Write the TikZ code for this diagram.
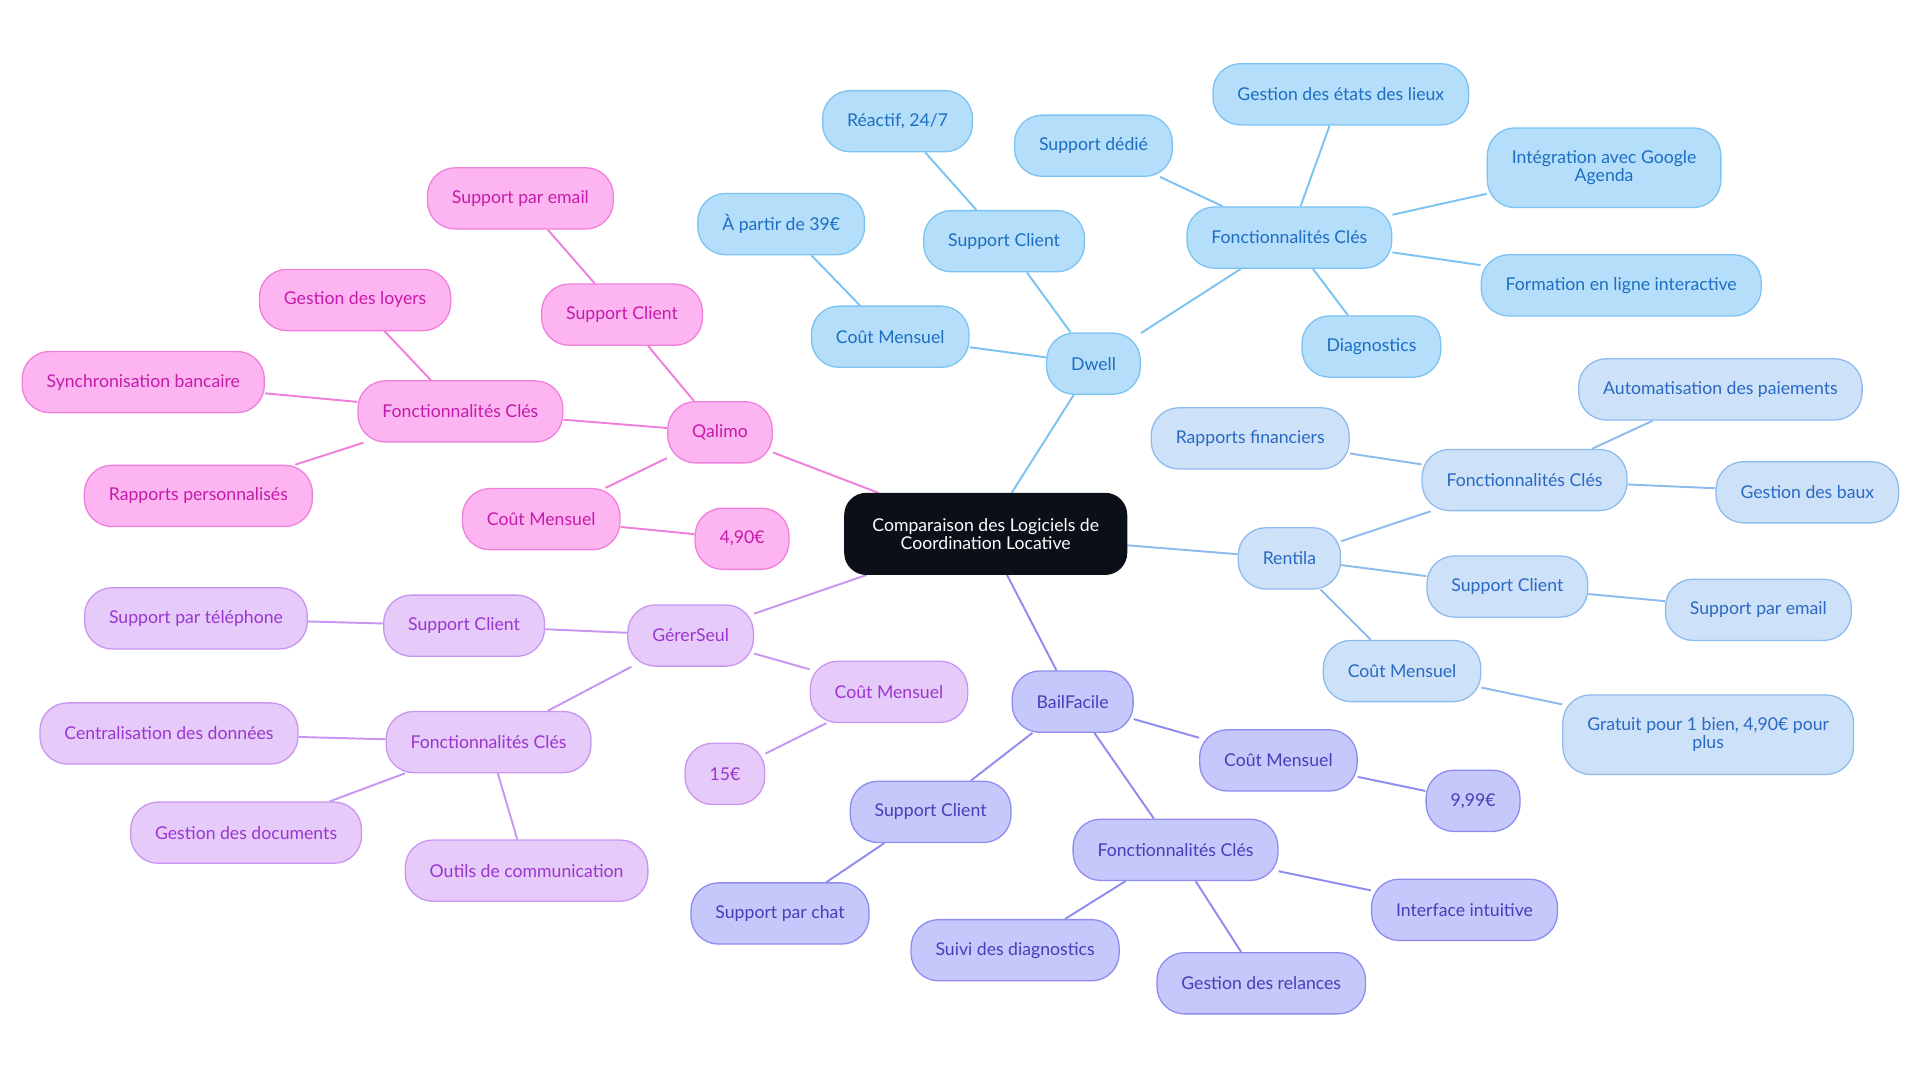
\documentclass[tikz,border=0pt]{standalone}
\usepackage{fontspec}
\setmainfont{Lato}
\usetikzlibrary{positioning,backgrounds}
\definecolor{dwfill}{HTML}{B5DEFB}\definecolor{dwline}{HTML}{7CC3F2}\definecolor{dwtext}{HTML}{1D6EC0}
\definecolor{refill}{HTML}{CDE2F9}\definecolor{reline}{HTML}{8DBBEE}\definecolor{retext}{HTML}{2A68C2}
\definecolor{bffill}{HTML}{C6C7FB}\definecolor{bfline}{HTML}{8E8CF0}\definecolor{bftext}{HTML}{4A3DB8}
\definecolor{gsfill}{HTML}{E6CAF9}\definecolor{gsline}{HTML}{C895F0}\definecolor{gstext}{HTML}{9A36CF}
\definecolor{qafill}{HTML}{FDB5F1}\definecolor{qaline}{HTML}{F07FDC}\definecolor{qatext}{HTML}{C41BAA}
\definecolor{root}{HTML}{0B0F18}
\tikzstyle{box}=[rounded corners=0.45cm, minimum height=1cm, inner xsep=0.4cm, align=center,
	font=\fontsize{8.2}{8.5}\selectfont, draw, line width=0.6pt]
\tikzstyle{dw}=[box, fill=dwfill, draw=dwline, text=dwtext]
\tikzstyle{re}=[box, fill=refill, draw=reline, text=retext]
\tikzstyle{bf}=[box, fill=bffill, draw=bfline, text=bftext]
\tikzstyle{gs}=[box, fill=gsfill, draw=gsline, text=gstext]
\tikzstyle{qa}=[box, fill=qafill, draw=qaline, text=qatext]
\tikzstyle{ln}=[line width=0.9pt]
\begin{document}
\begin{tikzpicture}[x=0.02cm, y=-0.02cm]
	\useasboundingbox (0,0) rectangle (1568,884.5);
	\node[box, fill=root, draw=root, text=white, minimum height=1.32cm, inner xsep=0.45cm,
		rounded corners=0.35cm] (root) at (805,436) {Comparaison des Logiciels de\\Coordination Locative};
	% Dwell
	\node[dw] (dwell) at (893,297) {Dwell};
	\node[dw] (dwcout) at (727,275) {Coût Mensuel};
	\node[dw] (dwprix) at (638,183) {À partir de 39€};
	\node[dw] (dwsup) at (820,197) {Support Client};
	\node[dw] (dwreac) at (733,99) {Réactif, 24/7};
	\node[dw] (dwfc) at (1053,194) {Fonctionnalités Clés};
	\node[dw] (dwded) at (893,119) {Support dédié};
	\node[dw] (dwetat) at (1095,77) {Gestion des états des lieux};
	\node[dw, minimum height=1.3cm] (dwgoog) at (1310,137) {Intégration avec Google\\Agenda};
	\node[dw] (dwform) at (1324,233) {Formation en ligne interactive};
	\node[dw] (dwdiag) at (1120,283) {Diagnostics};
	% Rentila
	\node[re] (rent) at (1053,456) {Rentila};
	\node[re] (refc) at (1245,392) {Fonctionnalités Clés};
	\node[re] (rerap) at (1021,358) {Rapports financiers};
	\node[re] (reauto) at (1405,318) {Automatisation des paiements};
	\node[re] (rebaux) at (1476,402) {Gestion des baux};
	\node[re] (resup) at (1231,479) {Support Client};
	\node[re] (remail) at (1436,498) {Support par email};
	\node[re] (recout) at (1145,548) {Coût Mensuel};
	\node[re, minimum height=1.3cm] (regrat) at (1395,600) {Gratuit pour 1 bien, 4,90€ pour\\plus};
	% BailFacile
	\node[bf] (bail) at (876,573) {BailFacile};
	\node[bf] (bfcout) at (1044,621) {Coût Mensuel};
	\node[bf] (bfprix) at (1203,654) {9,99€};
	\node[bf] (bfsup) at (760,663) {Support Client};
	\node[bf] (bfchat) at (637,746) {Support par chat};
	\node[bf] (bffc) at (960,694) {Fonctionnalités Clés};
	\node[bf] (bfint) at (1196,743) {Interface intuitive};
	\node[bf] (bfdiag) at (829,776) {Suivi des diagnostics};
	\node[bf] (bfrel) at (1030,803) {Gestion des relances};
	% GérerSeul
	\node[gs] (gerer) at (564,519) {GérerSeul};
	\node[gs] (gscout) at (726,565) {Coût Mensuel};
	\node[gs] (gsprix) at (592,632) {15€};
	\node[gs] (gssup) at (379,511) {Support Client};
	\node[gs] (gstel) at (160,505) {Support par téléphone};
	\node[gs] (gsfc) at (399,606) {Fonctionnalités Clés};
	\node[gs] (gscent) at (138,599) {Centralisation des données};
	\node[gs] (gsdoc) at (201,680) {Gestion des documents};
	\node[gs] (gsout) at (430,711) {Outils de communication};
	% Qalimo
	\node[qa] (qal) at (588,353) {Qalimo};
	\node[qa] (qasup) at (508,257) {Support Client};
	\node[qa] (qamail) at (425,162) {Support par email};
	\node[qa] (qafc) at (376,336) {Fonctionnalités Clés};
	\node[qa] (qaloy) at (290,245) {Gestion des loyers};
	\node[qa] (qasync) at (117,312) {Synchronisation bancaire};
	\node[qa] (qarap) at (162,405) {Rapports personnalisés};
	\node[qa] (qacout) at (442,424) {Coût Mensuel};
	\node[qa] (qaprix) at (606,440) {4,90€};
	\begin{pgfonlayer}{background}
		\draw[ln, dwline] (root) -- (dwell) (dwell) -- (dwcout) (dwcout) -- (dwprix)
			(dwell) -- (dwsup) (dwsup) -- (dwreac) (dwell) -- (dwfc) (dwfc) -- (dwded)
			(dwfc) -- (dwetat) (dwfc) -- (dwgoog) (dwfc) -- (dwform) (dwfc) -- (dwdiag);
		\draw[ln, reline] (root) -- (rent) (rent) -- (refc) (refc) -- (rerap) (refc) -- (reauto)
			(refc) -- (rebaux) (rent) -- (resup) (resup) -- (remail) (rent) -- (recout) (recout) -- (regrat);
		\draw[ln, bfline] (root) -- (bail) (bail) -- (bfcout) (bfcout) -- (bfprix) (bail) -- (bfsup)
			(bfsup) -- (bfchat) (bail) -- (bffc) (bffc) -- (bfint) (bffc) -- (bfdiag) (bffc) -- (bfrel);
		\draw[ln, gsline] (root) -- (gerer) (gerer) -- (gscout) (gscout) -- (gsprix) (gerer) -- (gssup)
			(gssup) -- (gstel) (gerer) -- (gsfc) (gsfc) -- (gscent) (gsfc) -- (gsdoc) (gsfc) -- (gsout);
		\draw[ln, qaline] (root) -- (qal) (qal) -- (qasup) (qasup) -- (qamail) (qal) -- (qafc)
			(qafc) -- (qaloy) (qafc) -- (qasync) (qafc) -- (qarap) (qal) -- (qacout) (qacout) -- (qaprix);
	\end{pgfonlayer}
\end{tikzpicture}
\end{document}
